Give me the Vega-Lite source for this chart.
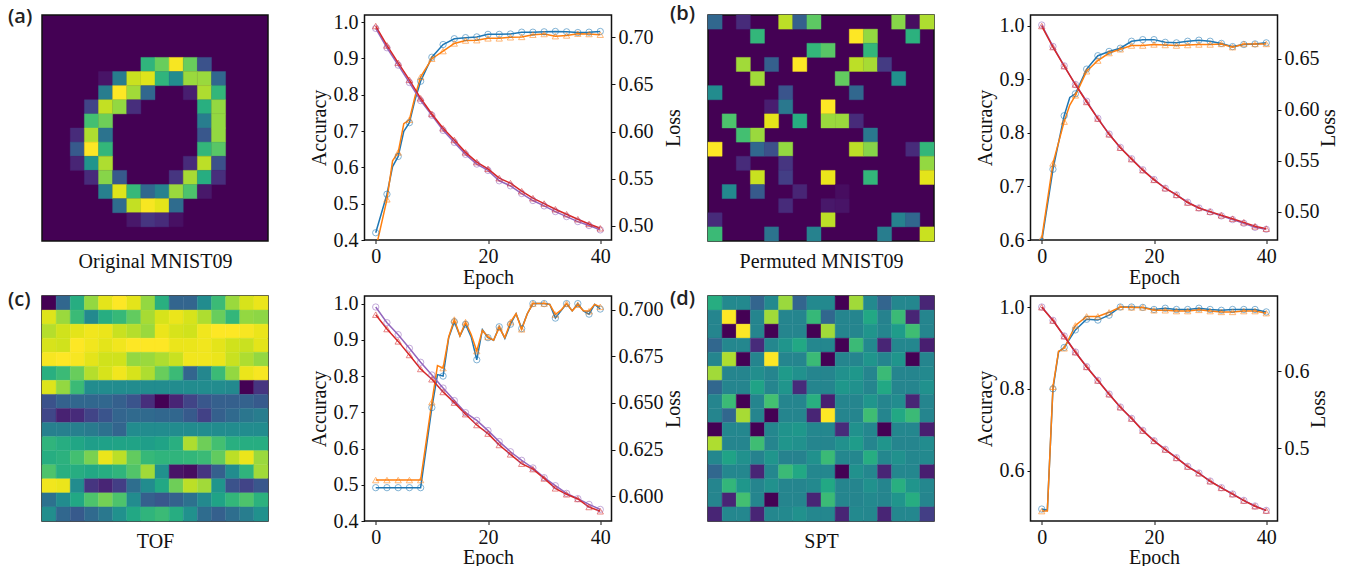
{"$schema":"https://vega.github.io/schema/vega-lite/v6.json","autosize":{"type":"none"},"padding":{"left":42,"top":15,"right":1308,"bottom":551},"background":"white","columns":4,"align":"each","bounds":"flush","spacing":{"row":55,"column":96.5},
"config":{"font":"Liberation Serif","view":{"stroke":"#111","strokeWidth":1.5},"axis":{"grid":false,"labelFont":"Liberation Serif","titleFont":"Liberation Serif","labelFontSize":20,"titleFontSize":20,"titleFontWeight":"normal","labelColor":"#111","titleColor":"#111","tickColor":"#111","tickSize":3.5,"tickWidth":1,"domain":false,"labelPadding":3,"labelOverlap":false,"labelFlush":false,"labelBound":false},"title":{"font":"Open Sans","fontWeight":600,"fontSize":20,"color":"#222","anchor":"start","frame":"group"},"rect":{"strokeWidth":0.4}},
"datasets":{
"ha":[{"r":3,"c":7,"v":0.65},{"r":3,"c":8,"v":0.77},{"r":3,"c":9,"v":0.99},{"r":3,"c":10,"v":0.77},{"r":3,"c":11,"v":0.25},{"r":4,"c":4,"v":0.05},{"r":4,"c":5,"v":0.42},{"r":4,"c":6,"v":0.92},{"r":4,"c":7,"v":0.95},{"r":4,"c":8,"v":0.65},{"r":4,"c":9,"v":0.48},{"r":4,"c":10,"v":0.85},{"r":4,"c":11,"v":0.85},{"r":4,"c":12,"v":0.33},{"r":5,"c":4,"v":0.42},{"r":5,"c":5,"v":1},{"r":5,"c":6,"v":0.86},{"r":5,"c":7,"v":0.33},{"r":5,"c":10,"v":0.08},{"r":5,"c":11,"v":0.88},{"r":5,"c":12,"v":0.66},{"r":6,"c":3,"v":0.2},{"r":6,"c":4,"v":0.91},{"r":6,"c":5,"v":0.84},{"r":6,"c":6,"v":0.13},{"r":6,"c":11,"v":0.63},{"r":6,"c":12,"v":0.84},{"r":7,"c":3,"v":0.7},{"r":7,"c":4,"v":0.78},{"r":7,"c":11,"v":0.42},{"r":7,"c":12,"v":0.84},{"r":8,"c":2,"v":0.12},{"r":8,"c":3,"v":0.88},{"r":8,"c":4,"v":0.38},{"r":8,"c":11,"v":0.27},{"r":8,"c":12,"v":0.84},{"r":9,"c":2,"v":0.28},{"r":9,"c":3,"v":1},{"r":9,"c":4,"v":0.66},{"r":9,"c":11,"v":0.66},{"r":9,"c":12,"v":0.74},{"r":10,"c":2,"v":0.1},{"r":10,"c":3,"v":0.52},{"r":10,"c":4,"v":0.88},{"r":10,"c":10,"v":0.12},{"r":10,"c":11,"v":0.9},{"r":10,"c":12,"v":0.24},{"r":11,"c":3,"v":0.12},{"r":11,"c":4,"v":0.82},{"r":11,"c":5,"v":0.28},{"r":11,"c":9,"v":0.15},{"r":11,"c":10,"v":0.87},{"r":11,"c":11,"v":0.62},{"r":11,"c":12,"v":0.13},{"r":12,"c":4,"v":0.43},{"r":12,"c":5,"v":0.95},{"r":12,"c":6,"v":0.67},{"r":12,"c":7,"v":0.33},{"r":12,"c":8,"v":0.44},{"r":12,"c":9,"v":0.85},{"r":12,"c":10,"v":0.72},{"r":12,"c":11,"v":0.06},{"r":13,"c":5,"v":0.35},{"r":13,"c":6,"v":0.91},{"r":13,"c":7,"v":0.99},{"r":13,"c":8,"v":0.96},{"r":13,"c":9,"v":0.35},{"r":14,"c":6,"v":0.06},{"r":14,"c":7,"v":0.15},{"r":14,"c":8,"v":0.12},{"r":14,"c":9,"v":0.04}],
"hb":[{"r":0,"c":0,"v":0.33},{"r":0,"c":2,"v":0.12},{"r":0,"c":5,"v":0.9},{"r":0,"c":6,"v":0.3},{"r":0,"c":7,"v":0.75},{"r":0,"c":13,"v":0.82},{"r":0,"c":14,"v":0.03},{"r":0,"c":15,"v":0.88},{"r":1,"c":3,"v":0.66},{"r":1,"c":10,"v":1},{"r":1,"c":11,"v":0.84},{"r":1,"c":14,"v":0.64},{"r":2,"c":7,"v":0.66},{"r":2,"c":8,"v":0.74},{"r":2,"c":11,"v":0.66},{"r":3,"c":2,"v":0.86},{"r":3,"c":4,"v":0.3},{"r":3,"c":6,"v":1},{"r":3,"c":10,"v":0.9},{"r":3,"c":11,"v":0.87},{"r":3,"c":12,"v":0.17},{"r":4,"c":3,"v":0.86},{"r":4,"c":9,"v":0.76},{"r":4,"c":13,"v":0.5},{"r":5,"c":0,"v":0.48},{"r":5,"c":5,"v":0.26},{"r":5,"c":10,"v":0.33},{"r":6,"c":4,"v":0.08},{"r":6,"c":5,"v":0.4},{"r":6,"c":8,"v":1},{"r":7,"c":1,"v":0.72},{"r":7,"c":4,"v":0.96},{"r":7,"c":6,"v":0.62},{"r":7,"c":8,"v":0.85},{"r":7,"c":9,"v":0.85},{"r":7,"c":10,"v":0.12},{"r":8,"c":2,"v":0.7},{"r":8,"c":3,"v":0.85},{"r":8,"c":11,"v":0.4},{"r":9,"c":0,"v":1},{"r":9,"c":3,"v":0.33},{"r":9,"c":4,"v":0.24},{"r":9,"c":5,"v":0.84},{"r":9,"c":10,"v":0.9},{"r":9,"c":11,"v":0.82},{"r":9,"c":14,"v":0.12},{"r":9,"c":15,"v":0.66},{"r":10,"c":2,"v":0.12},{"r":10,"c":5,"v":0.15},{"r":10,"c":15,"v":0.84},{"r":11,"c":3,"v":0.92},{"r":11,"c":5,"v":0.18},{"r":11,"c":8,"v":0.97},{"r":11,"c":11,"v":0.66},{"r":11,"c":15,"v":0.96},{"r":12,"c":1,"v":0.47},{"r":12,"c":3,"v":0.28},{"r":12,"c":6,"v":0.1},{"r":12,"c":9,"v":0.03},{"r":13,"c":5,"v":0.12},{"r":13,"c":8,"v":0.06},{"r":13,"c":9,"v":0.05},{"r":14,"c":0,"v":0.12},{"r":14,"c":8,"v":0.9},{"r":14,"c":13,"v":0.44},{"r":14,"c":14,"v":0.33},{"r":15,"c":0,"v":0.68},{"r":15,"c":4,"v":0.38},{"r":15,"c":7,"v":0.44},{"r":15,"c":12,"v":0.42},{"r":15,"c":15,"v":0.92}],
"hc":[{"r":0,"c":0,"v":0},{"r":0,"c":1,"v":0.33},{"r":0,"c":2,"v":0.62},{"r":0,"c":3,"v":0.84},{"r":0,"c":4,"v":0.96},{"r":0,"c":5,"v":1},{"r":0,"c":6,"v":0.96},{"r":0,"c":7,"v":0.84},{"r":0,"c":8,"v":0.63},{"r":0,"c":9,"v":0.32},{"r":0,"c":10,"v":0.32},{"r":0,"c":11,"v":0.48},{"r":0,"c":12,"v":0.68},{"r":0,"c":13,"v":0.85},{"r":0,"c":14,"v":0.94},{"r":0,"c":15,"v":0.97},{"r":1,"c":0,"v":0.95},{"r":1,"c":1,"v":0.85},{"r":1,"c":2,"v":0.68},{"r":1,"c":3,"v":0.47},{"r":1,"c":4,"v":0.62},{"r":1,"c":5,"v":0.67},{"r":1,"c":6,"v":0.76},{"r":1,"c":7,"v":0.87},{"r":1,"c":8,"v":0.94},{"r":1,"c":9,"v":0.97},{"r":1,"c":10,"v":0.94},{"r":1,"c":11,"v":0.88},{"r":1,"c":12,"v":0.77},{"r":1,"c":13,"v":0.66},{"r":1,"c":14,"v":0.84},{"r":1,"c":15,"v":0.83},{"r":2,"c":0,"v":0.89},{"r":2,"c":1,"v":0.93},{"r":2,"c":2,"v":0.96},{"r":2,"c":3,"v":0.98},{"r":2,"c":4,"v":0.97},{"r":2,"c":5,"v":0.92},{"r":2,"c":6,"v":0.89},{"r":2,"c":7,"v":0.85},{"r":2,"c":8,"v":0.97},{"r":2,"c":9,"v":0.94},{"r":2,"c":10,"v":0.93},{"r":2,"c":11,"v":0.98},{"r":2,"c":12,"v":1},{"r":2,"c":13,"v":1},{"r":2,"c":14,"v":0.99},{"r":2,"c":15,"v":0.97},{"r":3,"c":0,"v":0.94},{"r":3,"c":1,"v":0.93},{"r":3,"c":2,"v":1},{"r":3,"c":3,"v":0.98},{"r":3,"c":4,"v":0.96},{"r":3,"c":5,"v":0.98},{"r":3,"c":6,"v":1},{"r":3,"c":7,"v":1},{"r":3,"c":8,"v":1},{"r":3,"c":9,"v":0.97},{"r":3,"c":10,"v":0.97},{"r":3,"c":11,"v":0.98},{"r":3,"c":12,"v":0.96},{"r":3,"c":13,"v":0.93},{"r":3,"c":14,"v":0.92},{"r":3,"c":15,"v":0.96},{"r":4,"c":0,"v":0.99},{"r":4,"c":1,"v":1},{"r":4,"c":2,"v":0.99},{"r":4,"c":3,"v":0.96},{"r":4,"c":4,"v":0.93},{"r":4,"c":5,"v":0.93},{"r":4,"c":6,"v":0.84},{"r":4,"c":7,"v":0.85},{"r":4,"c":8,"v":0.88},{"r":4,"c":9,"v":0.92},{"r":4,"c":10,"v":0.98},{"r":4,"c":11,"v":0.98},{"r":4,"c":12,"v":0.97},{"r":4,"c":13,"v":0.92},{"r":4,"c":14,"v":0.88},{"r":4,"c":15,"v":0.84},{"r":5,"c":0,"v":0.63},{"r":5,"c":1,"v":0.68},{"r":5,"c":2,"v":0.77},{"r":5,"c":3,"v":0.89},{"r":5,"c":4,"v":0.94},{"r":5,"c":5,"v":0.98},{"r":5,"c":6,"v":0.94},{"r":5,"c":7,"v":0.88},{"r":5,"c":8,"v":0.77},{"r":5,"c":9,"v":0.68},{"r":5,"c":10,"v":0.32},{"r":5,"c":11,"v":0.46},{"r":5,"c":12,"v":0.68},{"r":5,"c":13,"v":0.84},{"r":5,"c":14,"v":0.97},{"r":5,"c":15,"v":0.99},{"r":6,"c":0,"v":0.95},{"r":6,"c":1,"v":0.84},{"r":6,"c":2,"v":0.68},{"r":6,"c":3,"v":0.48},{"r":6,"c":4,"v":0.48},{"r":6,"c":5,"v":0.48},{"r":6,"c":6,"v":0.48},{"r":6,"c":7,"v":0.48},{"r":6,"c":8,"v":0.48},{"r":6,"c":9,"v":0.48},{"r":6,"c":10,"v":0.48},{"r":6,"c":11,"v":0.48},{"r":6,"c":12,"v":0.48},{"r":6,"c":13,"v":0.47},{"r":6,"c":14,"v":0},{"r":6,"c":15,"v":0.15},{"r":7,"c":0,"v":0.25},{"r":7,"c":1,"v":0.31},{"r":7,"c":2,"v":0.33},{"r":7,"c":3,"v":0.33},{"r":7,"c":4,"v":0.33},{"r":7,"c":5,"v":0.3},{"r":7,"c":6,"v":0.26},{"r":7,"c":7,"v":0.13},{"r":7,"c":8,"v":0},{"r":7,"c":9,"v":0.1},{"r":7,"c":10,"v":0.2},{"r":7,"c":11,"v":0.27},{"r":7,"c":12,"v":0.3},{"r":7,"c":13,"v":0.3},{"r":7,"c":14,"v":0.31},{"r":7,"c":15,"v":0.28},{"r":8,"c":0,"v":0.21},{"r":8,"c":1,"v":0.09},{"r":8,"c":2,"v":0.12},{"r":8,"c":3,"v":0.2},{"r":8,"c":4,"v":0.26},{"r":8,"c":5,"v":0.32},{"r":8,"c":6,"v":0.34},{"r":8,"c":7,"v":0.34},{"r":8,"c":8,"v":0.33},{"r":8,"c":9,"v":0.33},{"r":8,"c":10,"v":0.28},{"r":8,"c":11,"v":0.19},{"r":8,"c":12,"v":0.3},{"r":8,"c":13,"v":0.34},{"r":8,"c":14,"v":0.39},{"r":8,"c":15,"v":0.42},{"r":9,"c":0,"v":0.43},{"r":9,"c":1,"v":0.43},{"r":9,"c":2,"v":0.43},{"r":9,"c":3,"v":0.41},{"r":9,"c":4,"v":0.37},{"r":9,"c":5,"v":0.32},{"r":9,"c":6,"v":0.48},{"r":9,"c":7,"v":0.48},{"r":9,"c":8,"v":0.48},{"r":9,"c":9,"v":0.48},{"r":9,"c":10,"v":0.48},{"r":9,"c":11,"v":0.48},{"r":9,"c":12,"v":0.48},{"r":9,"c":13,"v":0.48},{"r":9,"c":14,"v":0.48},{"r":9,"c":15,"v":0.48},{"r":10,"c":0,"v":0.65},{"r":10,"c":1,"v":0.62},{"r":10,"c":2,"v":0.59},{"r":10,"c":3,"v":0.56},{"r":10,"c":4,"v":0.57},{"r":10,"c":5,"v":0.58},{"r":10,"c":6,"v":0.58},{"r":10,"c":7,"v":0.56},{"r":10,"c":8,"v":0.58},{"r":10,"c":9,"v":0.63},{"r":10,"c":10,"v":0.88},{"r":10,"c":11,"v":0.78},{"r":10,"c":12,"v":0.7},{"r":10,"c":13,"v":0.63},{"r":10,"c":14,"v":0.62},{"r":10,"c":15,"v":0.62},{"r":11,"c":0,"v":0.62},{"r":11,"c":1,"v":0.64},{"r":11,"c":2,"v":0.7},{"r":11,"c":3,"v":0.8},{"r":11,"c":4,"v":0.97},{"r":11,"c":5,"v":0.9},{"r":11,"c":6,"v":0.76},{"r":11,"c":7,"v":0.67},{"r":11,"c":8,"v":0.65},{"r":11,"c":9,"v":0.65},{"r":11,"c":10,"v":0.66},{"r":11,"c":11,"v":0.68},{"r":11,"c":12,"v":0.76},{"r":11,"c":13,"v":0.9},{"r":11,"c":14,"v":0.97},{"r":11,"c":15,"v":0.85},{"r":12,"c":0,"v":0.72},{"r":12,"c":1,"v":0.63},{"r":12,"c":2,"v":0.62},{"r":12,"c":3,"v":0.6},{"r":12,"c":4,"v":0.62},{"r":12,"c":5,"v":0.65},{"r":12,"c":6,"v":0.73},{"r":12,"c":7,"v":0.86},{"r":12,"c":8,"v":0.5},{"r":12,"c":9,"v":0.05},{"r":12,"c":10,"v":0.03},{"r":12,"c":11,"v":0.15},{"r":12,"c":12,"v":0.3},{"r":12,"c":13,"v":0.48},{"r":12,"c":14,"v":0.65},{"r":12,"c":15,"v":0.86},{"r":13,"c":0,"v":0.98},{"r":13,"c":1,"v":0.97},{"r":13,"c":2,"v":0.48},{"r":13,"c":3,"v":0.15},{"r":13,"c":4,"v":0.1},{"r":13,"c":5,"v":0.18},{"r":13,"c":6,"v":0.36},{"r":13,"c":7,"v":0.48},{"r":13,"c":8,"v":0.6},{"r":13,"c":9,"v":0.78},{"r":13,"c":10,"v":0.9},{"r":13,"c":11,"v":0.86},{"r":13,"c":12,"v":0.52},{"r":13,"c":13,"v":0.25},{"r":13,"c":14,"v":0.2},{"r":13,"c":15,"v":0.27},{"r":14,"c":0,"v":0.37},{"r":14,"c":1,"v":0.48},{"r":14,"c":2,"v":0.6},{"r":14,"c":3,"v":0.72},{"r":14,"c":4,"v":0.79},{"r":14,"c":5,"v":0.72},{"r":14,"c":6,"v":0.48},{"r":14,"c":7,"v":0.3},{"r":14,"c":8,"v":0.27},{"r":14,"c":9,"v":0.31},{"r":14,"c":10,"v":0.37},{"r":14,"c":11,"v":0.47},{"r":14,"c":12,"v":0.58},{"r":14,"c":13,"v":0.66},{"r":14,"c":14,"v":0.72},{"r":14,"c":15,"v":0.64},{"r":15,"c":0,"v":0.49},{"r":15,"c":1,"v":0.33},{"r":15,"c":2,"v":0.28},{"r":15,"c":3,"v":0.34},{"r":15,"c":4,"v":0.4},{"r":15,"c":5,"v":0.5},{"r":15,"c":6,"v":0.6},{"r":15,"c":7,"v":0.65},{"r":15,"c":8,"v":0.68},{"r":15,"c":9,"v":0.62},{"r":15,"c":10,"v":0.5},{"r":15,"c":11,"v":0.35},{"r":15,"c":12,"v":0.3},{"r":15,"c":13,"v":0.36},{"r":15,"c":14,"v":0.42},{"r":15,"c":15,"v":0.5}],
"hd":[{"r":0,"c":0,"v":0.62},{"r":0,"c":1,"v":0.47},{"r":0,"c":2,"v":0.47},{"r":0,"c":3,"v":0.32},{"r":0,"c":4,"v":0.47},{"r":0,"c":5,"v":0.85},{"r":0,"c":6,"v":0.32},{"r":0,"c":7,"v":0.47},{"r":0,"c":8,"v":0.47},{"r":0,"c":9,"v":0},{"r":0,"c":10,"v":0.86},{"r":0,"c":11,"v":0.47},{"r":0,"c":12,"v":0.32},{"r":0,"c":13,"v":0.46},{"r":0,"c":14,"v":0.46},{"r":0,"c":15,"v":0.1},{"r":1,"c":0,"v":0.45},{"r":1,"c":1,"v":1},{"r":1,"c":2,"v":0},{"r":1,"c":3,"v":0.45},{"r":1,"c":4,"v":0.86},{"r":1,"c":5,"v":0.45},{"r":1,"c":6,"v":0.45},{"r":1,"c":7,"v":0.67},{"r":1,"c":8,"v":0.33},{"r":1,"c":9,"v":0.45},{"r":1,"c":10,"v":0.45},{"r":1,"c":11,"v":0.6},{"r":1,"c":12,"v":0.44},{"r":1,"c":13,"v":0.68},{"r":1,"c":14,"v":0.1},{"r":1,"c":15,"v":0.45},{"r":2,"c":0,"v":0.45},{"r":2,"c":1,"v":0},{"r":2,"c":2,"v":1},{"r":2,"c":3,"v":0.45},{"r":2,"c":4,"v":0},{"r":2,"c":5,"v":0.45},{"r":2,"c":6,"v":0.45},{"r":2,"c":7,"v":0},{"r":2,"c":8,"v":0.86},{"r":2,"c":9,"v":0.45},{"r":2,"c":10,"v":0.45},{"r":2,"c":11,"v":0.52},{"r":2,"c":12,"v":0.45},{"r":2,"c":13,"v":0.55},{"r":2,"c":14,"v":0.69},{"r":2,"c":15,"v":0.45},{"r":3,"c":0,"v":0.33},{"r":3,"c":1,"v":0.46},{"r":3,"c":2,"v":0.46},{"r":3,"c":3,"v":0.12},{"r":3,"c":4,"v":0.46},{"r":3,"c":5,"v":0.52},{"r":3,"c":6,"v":0.6},{"r":3,"c":7,"v":0.46},{"r":3,"c":8,"v":0.46},{"r":3,"c":9,"v":0},{"r":3,"c":10,"v":0.68},{"r":3,"c":11,"v":0.47},{"r":3,"c":12,"v":0.1},{"r":3,"c":13,"v":0.46},{"r":3,"c":14,"v":0.46},{"r":3,"c":15,"v":0.08},{"r":4,"c":0,"v":0.45},{"r":4,"c":1,"v":0.88},{"r":4,"c":2,"v":0},{"r":4,"c":3,"v":0.45},{"r":4,"c":4,"v":1},{"r":4,"c":5,"v":0.45},{"r":4,"c":6,"v":0.45},{"r":4,"c":7,"v":0.68},{"r":4,"c":8,"v":0},{"r":4,"c":9,"v":0.45},{"r":4,"c":10,"v":0.45},{"r":4,"c":11,"v":0.52},{"r":4,"c":12,"v":0.45},{"r":4,"c":13,"v":0.52},{"r":4,"c":14,"v":0},{"r":4,"c":15,"v":0.45},{"r":5,"c":0,"v":0.86},{"r":5,"c":1,"v":0.45},{"r":5,"c":2,"v":0.45},{"r":5,"c":3,"v":0.49},{"r":5,"c":4,"v":0.45},{"r":5,"c":5,"v":0.54},{"r":5,"c":6,"v":0.5},{"r":5,"c":7,"v":0.45},{"r":5,"c":8,"v":0.45},{"r":5,"c":9,"v":0.5},{"r":5,"c":10,"v":0.53},{"r":5,"c":11,"v":0.45},{"r":5,"c":12,"v":0.68},{"r":5,"c":13,"v":0.45},{"r":5,"c":14,"v":0.45},{"r":5,"c":15,"v":0.47},{"r":6,"c":0,"v":0.33},{"r":6,"c":1,"v":0.45},{"r":6,"c":2,"v":0.45},{"r":6,"c":3,"v":0.58},{"r":6,"c":4,"v":0.45},{"r":6,"c":5,"v":0.52},{"r":6,"c":6,"v":0.12},{"r":6,"c":7,"v":0.45},{"r":6,"c":8,"v":0.45},{"r":6,"c":9,"v":0.53},{"r":6,"c":10,"v":0.5},{"r":6,"c":11,"v":0.45},{"r":6,"c":12,"v":0.6},{"r":6,"c":13,"v":0.45},{"r":6,"c":14,"v":0.45},{"r":6,"c":15,"v":0.5},{"r":7,"c":0,"v":0.45},{"r":7,"c":1,"v":0.68},{"r":7,"c":2,"v":0},{"r":7,"c":3,"v":0.45},{"r":7,"c":4,"v":0.7},{"r":7,"c":5,"v":0.45},{"r":7,"c":6,"v":0.45},{"r":7,"c":7,"v":0.63},{"r":7,"c":8,"v":0.08},{"r":7,"c":9,"v":0.45},{"r":7,"c":10,"v":0.45},{"r":7,"c":11,"v":0.52},{"r":7,"c":12,"v":0.45},{"r":7,"c":13,"v":0.48},{"r":7,"c":14,"v":0.1},{"r":7,"c":15,"v":0.45},{"r":8,"c":0,"v":0.45},{"r":8,"c":1,"v":0.33},{"r":8,"c":2,"v":0.87},{"r":8,"c":3,"v":0.45},{"r":8,"c":4,"v":0},{"r":8,"c":5,"v":0.45},{"r":8,"c":6,"v":0.45},{"r":8,"c":7,"v":0.1},{"r":8,"c":8,"v":1},{"r":8,"c":9,"v":0.45},{"r":8,"c":10,"v":0.45},{"r":8,"c":11,"v":0.69},{"r":8,"c":12,"v":0.45},{"r":8,"c":13,"v":0.6},{"r":8,"c":14,"v":0.68},{"r":8,"c":15,"v":0.45},{"r":9,"c":0,"v":0},{"r":9,"c":1,"v":0.46},{"r":9,"c":2,"v":0.46},{"r":9,"c":3,"v":0},{"r":9,"c":4,"v":0.46},{"r":9,"c":5,"v":0.51},{"r":9,"c":6,"v":0.53},{"r":9,"c":7,"v":0.46},{"r":9,"c":8,"v":0.46},{"r":9,"c":9,"v":0.12},{"r":9,"c":10,"v":0.5},{"r":9,"c":11,"v":0.46},{"r":9,"c":12,"v":0},{"r":9,"c":13,"v":0.46},{"r":9,"c":14,"v":0.46},{"r":9,"c":15,"v":0.08},{"r":10,"c":0,"v":0.88},{"r":10,"c":1,"v":0.45},{"r":10,"c":2,"v":0.45},{"r":10,"c":3,"v":0.69},{"r":10,"c":4,"v":0.45},{"r":10,"c":5,"v":0.52},{"r":10,"c":6,"v":0.5},{"r":10,"c":7,"v":0.45},{"r":10,"c":8,"v":0.45},{"r":10,"c":9,"v":0.5},{"r":10,"c":10,"v":0.55},{"r":10,"c":11,"v":0.45},{"r":10,"c":12,"v":0.52},{"r":10,"c":13,"v":0.45},{"r":10,"c":14,"v":0.45},{"r":10,"c":15,"v":0.48},{"r":11,"c":0,"v":0.46},{"r":11,"c":1,"v":0.58},{"r":11,"c":2,"v":0.5},{"r":11,"c":3,"v":0.44},{"r":11,"c":4,"v":0.52},{"r":11,"c":5,"v":0.44},{"r":11,"c":6,"v":0.44},{"r":11,"c":7,"v":0.5},{"r":11,"c":8,"v":0.68},{"r":11,"c":9,"v":0.46},{"r":11,"c":10,"v":0.46},{"r":11,"c":11,"v":0.62},{"r":11,"c":12,"v":0.46},{"r":11,"c":13,"v":0.5},{"r":11,"c":14,"v":0.46},{"r":11,"c":15,"v":0.47},{"r":12,"c":0,"v":0.33},{"r":12,"c":1,"v":0.46},{"r":12,"c":2,"v":0.46},{"r":12,"c":3,"v":0.1},{"r":12,"c":4,"v":0.46},{"r":12,"c":5,"v":0.68},{"r":12,"c":6,"v":0.6},{"r":12,"c":7,"v":0.46},{"r":12,"c":8,"v":0.46},{"r":12,"c":9,"v":0},{"r":12,"c":10,"v":0.5},{"r":12,"c":11,"v":0.46},{"r":12,"c":12,"v":0.1},{"r":12,"c":13,"v":0.46},{"r":12,"c":14,"v":0.46},{"r":12,"c":15,"v":0.08},{"r":13,"c":0,"v":0.45},{"r":13,"c":1,"v":0.66},{"r":13,"c":2,"v":0.53},{"r":13,"c":3,"v":0.45},{"r":13,"c":4,"v":0.5},{"r":13,"c":5,"v":0.45},{"r":13,"c":6,"v":0.45},{"r":13,"c":7,"v":0.47},{"r":13,"c":8,"v":0.6},{"r":13,"c":9,"v":0.45},{"r":13,"c":10,"v":0.45},{"r":13,"c":11,"v":0.5},{"r":13,"c":12,"v":0.45},{"r":13,"c":13,"v":0.63},{"r":13,"c":14,"v":0.52},{"r":13,"c":15,"v":0.46},{"r":14,"c":0,"v":0.45},{"r":14,"c":1,"v":0.1},{"r":14,"c":2,"v":0.7},{"r":14,"c":3,"v":0.45},{"r":14,"c":4,"v":0},{"r":14,"c":5,"v":0.45},{"r":14,"c":6,"v":0.45},{"r":14,"c":7,"v":0.1},{"r":14,"c":8,"v":0.68},{"r":14,"c":9,"v":0.45},{"r":14,"c":10,"v":0.45},{"r":14,"c":11,"v":0.47},{"r":14,"c":12,"v":0.45},{"r":14,"c":13,"v":0.52},{"r":14,"c":14,"v":0.62},{"r":14,"c":15,"v":0.45},{"r":15,"c":0,"v":0.1},{"r":15,"c":1,"v":0.46},{"r":15,"c":2,"v":0.46},{"r":15,"c":3,"v":0.1},{"r":15,"c":4,"v":0.46},{"r":15,"c":5,"v":0.47},{"r":15,"c":6,"v":0.5},{"r":15,"c":7,"v":0.46},{"r":15,"c":8,"v":0.46},{"r":15,"c":9,"v":0.1},{"r":15,"c":10,"v":0.47},{"r":15,"c":11,"v":0.46},{"r":15,"c":12,"v":0.1},{"r":15,"c":13,"v":0.46},{"r":15,"c":14,"v":0.46},{"r":15,"c":15,"v":0.18}],
"la":[{"e":0,"ta":0.42,"va":0.375,"tl":0.7092,"vl":0.7117},{"e":2,"ta":0.526,"va":0.512,"tl":0.6887,"vl":0.6912},{"e":3,"ta":0.602,"va":0.618},{"e":4,"ta":0.63,"va":0.641,"tl":0.6703,"vl":0.6727},{"e":5,"ta":0.699,"va":0.72},{"e":6,"ta":0.723,"va":0.731,"tl":0.6519,"vl":0.6547},{"e":7,"ta":0.786,"va":0.795},{"e":8,"ta":0.837,"va":0.849,"tl":0.6327,"vl":0.6352},{"e":10,"ta":0.903,"va":0.899,"tl":0.6172,"vl":0.6186},{"e":12,"ta":0.938,"va":0.92,"tl":0.6012,"vl":0.6034},{"e":14,"ta":0.954,"va":0.941,"tl":0.5885,"vl":0.591},{"e":16,"ta":0.957,"va":0.949,"tl":0.5758,"vl":0.5779},{"e":18,"ta":0.959,"va":0.95,"tl":0.5655,"vl":0.5676},{"e":20,"ta":0.966,"va":0.955,"tl":0.5588,"vl":0.5605},{"e":22,"ta":0.966,"va":0.955,"tl":0.5478,"vl":0.5506},{"e":24,"ta":0.967,"va":0.958,"tl":0.5425,"vl":0.5453},{"e":26,"ta":0.972,"va":0.959,"tl":0.5343,"vl":0.5368},{"e":28,"ta":0.972,"va":0.965,"tl":0.5269,"vl":0.5294},{"e":30,"ta":0.973,"va":0.967,"tl":0.5212,"vl":0.5237},{"e":32,"ta":0.974,"va":0.961,"tl":0.5152,"vl":0.5177},{"e":34,"ta":0.973,"va":0.963,"tl":0.5099,"vl":0.5124},{"e":36,"ta":0.971,"va":0.968,"tl":0.5046,"vl":0.5071},{"e":38,"ta":0.972,"va":0.967,"tl":0.5004,"vl":0.5021},{"e":40,"ta":0.974,"va":0.965,"tl":0.4958,"vl":0.4975}],
"lb":[{"e":0,"ta":0.597,"va":0.603,"tl":0.6831,"vl":0.6821},{"e":2,"ta":0.732,"va":0.743,"tl":0.6621,"vl":0.6615},{"e":4,"ta":0.832,"va":0.821,"tl":0.6431,"vl":0.6428},{"e":5,"ta":0.866,"va":0.852},{"e":6,"ta":0.873,"va":0.87,"tl":0.6248,"vl":0.6248},{"e":8,"ta":0.919,"va":0.915,"tl":0.6084,"vl":0.6077},{"e":10,"ta":0.944,"va":0.935,"tl":0.5917,"vl":0.5914},{"e":12,"ta":0.952,"va":0.949,"tl":0.5763,"vl":0.576},{"e":14,"ta":0.958,"va":0.956,"tl":0.5632,"vl":0.5629},{"e":16,"ta":0.971,"va":0.963,"tl":0.5521,"vl":0.5517},{"e":18,"ta":0.974,"va":0.963,"tl":0.5413,"vl":0.5409},{"e":20,"ta":0.974,"va":0.965,"tl":0.5318,"vl":0.5314},{"e":22,"ta":0.969,"va":0.964,"tl":0.5232,"vl":0.5232},{"e":24,"ta":0.968,"va":0.963,"tl":0.5167,"vl":0.5167},{"e":26,"ta":0.971,"va":0.964,"tl":0.5095,"vl":0.5092},{"e":28,"ta":0.973,"va":0.965,"tl":0.5039,"vl":0.5039},{"e":30,"ta":0.971,"va":0.965,"tl":0.5,"vl":0.5003},{"e":32,"ta":0.967,"va":0.966,"tl":0.4961,"vl":0.4967},{"e":34,"ta":0.961,"va":0.96,"tl":0.4925,"vl":0.4934},{"e":36,"ta":0.965,"va":0.966,"tl":0.4889,"vl":0.4898},{"e":38,"ta":0.966,"va":0.966,"tl":0.4849,"vl":0.4859},{"e":40,"ta":0.968,"va":0.966,"tl":0.483,"vl":0.4836}],
"lc":[{"e":0,"ta":0.492,"va":0.513,"tl":0.7014,"vl":0.6973},{"e":2,"ta":0.492,"va":0.513,"tl":0.693,"vl":0.6896},{"e":4,"ta":0.492,"va":0.513,"tl":0.6866,"vl":0.683},{"e":6,"ta":0.492,"va":0.513,"tl":0.6793,"vl":0.6757},{"e":8,"ta":0.492,"va":0.513,"tl":0.6718,"vl":0.6682},{"e":10,"ta":0.713,"va":0.728,"tl":0.665,"vl":0.6627},{"e":11,"ta":0.804,"va":0.829},{"e":12,"ta":0.8,"va":0.822,"tl":0.658,"vl":0.6559},{"e":13,"ta":0.906,"va":0.908},{"e":14,"ta":0.95,"va":0.956,"tl":0.6513,"vl":0.6502},{"e":15,"ta":0.911,"va":0.911},{"e":16,"ta":0.943,"va":0.949,"tl":0.6448,"vl":0.644},{"e":17,"ta":0.908,"va":0.915},{"e":18,"ta":0.845,"va":0.869,"tl":0.6407,"vl":0.6382},{"e":19,"ta":0.928,"va":0.926},{"e":20,"ta":0.906,"va":0.908,"tl":0.6352,"vl":0.6336},{"e":21,"ta":0.899,"va":0.899},{"e":22,"ta":0.936,"va":0.934,"tl":0.6293,"vl":0.6275},{"e":23,"ta":0.904,"va":0.906},{"e":24,"ta":0.943,"va":0.949,"tl":0.6239,"vl":0.6225},{"e":25,"ta":0.972,"va":0.972},{"e":26,"ta":0.931,"va":0.929,"tl":0.6193,"vl":0.6175},{"e":27,"ta":0.972,"va":0.972},{"e":28,"ta":1,"va":1,"tl":0.6152,"vl":0.6146},{"e":29,"ta":1,"va":1},{"e":30,"ta":1,"va":1,"tl":0.61,"vl":0.6096},{"e":31,"ta":0.998,"va":0.998},{"e":32,"ta":0.96,"va":0.97,"tl":0.6057,"vl":0.6043},{"e":33,"ta":0.98,"va":0.982},{"e":34,"ta":1,"va":1,"tl":0.6016,"vl":0.6011},{"e":35,"ta":0.98,"va":0.98},{"e":36,"ta":1,"va":0.997,"tl":0.5988,"vl":0.5986},{"e":37,"ta":0.98,"va":0.98},{"e":38,"ta":0.971,"va":0.979,"tl":0.5957,"vl":0.5943},{"e":39,"ta":0.998,"va":0.998},{"e":40,"ta":0.985,"va":0.991,"tl":0.593,"vl":0.592}],
"ld":[{"e":0,"ta":0.506,"va":0.501,"tl":0.6831,"vl":0.6828},{"e":1,"ta":0.503,"va":0.501},{"e":2,"ta":0.8,"va":0.805,"tl":0.6658,"vl":0.6655},{"e":3,"ta":0.89,"va":0.892},{"e":4,"ta":0.901,"va":0.899,"tl":0.6455,"vl":0.6452},{"e":6,"ta":0.944,"va":0.955,"tl":0.6247,"vl":0.6244},{"e":8,"ta":0.97,"va":0.977,"tl":0.6056,"vl":0.6053},{"e":10,"ta":0.968,"va":0.977,"tl":0.5879,"vl":0.5876},{"e":12,"ta":0.98,"va":0.987,"tl":0.5701,"vl":0.5698},{"e":14,"ta":1,"va":1,"tl":0.5532,"vl":0.5529},{"e":16,"ta":1,"va":0.999,"tl":0.5385,"vl":0.5382},{"e":18,"ta":0.999,"va":0.999,"tl":0.5229,"vl":0.5226},{"e":20,"ta":0.994,"va":0.992,"tl":0.5095,"vl":0.5092},{"e":22,"ta":0.997,"va":0.992,"tl":0.4983,"vl":0.498},{"e":24,"ta":0.994,"va":0.99,"tl":0.4874,"vl":0.4871},{"e":26,"ta":0.994,"va":0.99,"tl":0.4762,"vl":0.4759},{"e":28,"ta":0.997,"va":0.993,"tl":0.4675,"vl":0.4672},{"e":30,"ta":0.994,"va":0.99,"tl":0.4571,"vl":0.4568},{"e":32,"ta":0.992,"va":0.988,"tl":0.4485,"vl":0.4482},{"e":34,"ta":0.994,"va":0.988,"tl":0.4403,"vl":0.44},{"e":36,"ta":0.994,"va":0.99,"tl":0.432,"vl":0.4317},{"e":38,"ta":0.994,"va":0.99,"tl":0.4247,"vl":0.4244},{"e":40,"ta":0.988,"va":0.985,"tl":0.419,"vl":0.4187}]
},
"concat":[
{"data":{"name":"ha"},"width":226,"height":226,"view":{"fill":"#440154"},"title":{"text":"(a)","dx":-34,"dy":16},"mark":"rect","encoding":{"x":{"field":"c","type":"ordinal","scale":{"domain":[0,1,2,3,4,5,6,7,8,9,10,11,12,13,14,15]},"axis":{"labels":false,"ticks":false,"title":"Original MNIST09","titlePadding":10}},"y":{"field":"r","type":"ordinal","scale":{"domain":[0,1,2,3,4,5,6,7,8,9,10,11,12,13,14,15]},"axis":null},"color":{"field":"v","type":"quantitative","scale":{"scheme":"viridis","domain":[0,1]},"legend":null},"stroke":{"field":"v","type":"quantitative","scale":{"scheme":"viridis","domain":[0,1]},"legend":null}}},
{"data":{"name":"la"},"width":247,"height":225,"encoding":{"x":{"field":"e","type":"quantitative","scale":{"domain":[-2,42],"nice":false},"axis":{"values":[0,20,40],"title":"Epoch","titlePadding":1}}},"layer":[
{"transform":[{"fold":["ta","va"],"as":["k","v"]}],"encoding":{"y":{"field":"v","type":"quantitative","scale":{"domain":[0.4,1.0193],"nice":false,"zero":false},"axis":{"values":[0.4,0.5,0.6,0.7,0.8,0.9,1.0],"format":".1f","title":"Accuracy","titlePadding":4}},"color":{"field":"k","type":"nominal","legend":null,"scale":{"domain":["ta","va","tl","vl"],"range":["#1f77b4","#ff7f0e","#9467bd","#d62728"]}}},"layer":[{"mark":{"type":"line","strokeWidth":1.5,"invalid":"filter","clip":true}},{"transform":[{"filter":"datum.e % 2 == 0 && datum.k == 'ta'"}],"mark":{"type":"point","shape":"circle","filled":false,"size":40,"strokeWidth":0.8,"clip":true,"invalid":"filter"}},{"transform":[{"filter":"datum.e % 2 == 0 && datum.k == 'va'"}],"mark":{"type":"point","shape":"triangle-up","filled":false,"size":40,"strokeWidth":0.8,"clip":true,"invalid":"filter"}}]},
{"transform":[{"fold":["tl","vl"],"as":["k","v"]}],"encoding":{"y":{"field":"v","type":"quantitative","scale":{"domain":[0.4851,0.7234],"nice":false,"zero":false},"axis":{"orient":"right","values":[0.5,0.55,0.6,0.65,0.7],"format":".2f","title":"Loss","titleAngle":270,"titleBaseline":"top","titlePadding":10}},"color":{"field":"k","type":"nominal","legend":null,"scale":{"domain":["ta","va","tl","vl"],"range":["#1f77b4","#ff7f0e","#9467bd","#d62728"]}}},"layer":[{"mark":{"type":"line","strokeWidth":1.5,"invalid":"filter","clip":true}},{"transform":[{"filter":"datum.e % 2 == 0 && datum.k == 'tl'"}],"mark":{"type":"point","shape":"circle","filled":false,"size":40,"strokeWidth":0.8,"clip":true,"invalid":"filter"}},{"transform":[{"filter":"datum.e % 2 == 0 && datum.k == 'vl'"}],"mark":{"type":"point","shape":"triangle-up","filled":false,"size":40,"strokeWidth":0.8,"clip":true,"invalid":"filter"}}]}
],"resolve":{"scale":{"y":"independent"}}},
{"data":{"name":"hb"},"width":226,"height":226,"view":{"fill":"#440154"},"title":{"text":"(b)","dx":-38,"dy":13},"mark":"rect","encoding":{"x":{"field":"c","type":"ordinal","scale":{"domain":[0,1,2,3,4,5,6,7,8,9,10,11,12,13,14,15]},"axis":{"labels":false,"ticks":false,"title":"Permuted MNIST09","titlePadding":10}},"y":{"field":"r","type":"ordinal","scale":{"domain":[0,1,2,3,4,5,6,7,8,9,10,11,12,13,14,15]},"axis":null},"color":{"field":"v","type":"quantitative","scale":{"scheme":"viridis","domain":[0,1]},"legend":null},"stroke":{"field":"v","type":"quantitative","scale":{"scheme":"viridis","domain":[0,1]},"legend":null}}},
{"data":{"name":"lb"},"width":247,"height":225,"encoding":{"x":{"field":"e","type":"quantitative","scale":{"domain":[-2,42],"nice":false},"axis":{"values":[0,20,40],"title":"Epoch","titlePadding":1}}},"layer":[
{"transform":[{"fold":["ta","va"],"as":["k","v"]}],"encoding":{"y":{"field":"v","type":"quantitative","scale":{"domain":[0.6,1.02],"nice":false,"zero":false},"axis":{"values":[0.6,0.7,0.8,0.9,1.0],"format":".1f","title":"Accuracy","titlePadding":4}},"color":{"field":"k","type":"nominal","legend":null,"scale":{"domain":["ta","va","tl","vl"],"range":["#1f77b4","#ff7f0e","#9467bd","#d62728"]}}},"layer":[{"mark":{"type":"line","strokeWidth":1.5,"invalid":"filter","clip":true}},{"transform":[{"filter":"datum.e % 2 == 0 && datum.k == 'ta'"}],"mark":{"type":"point","shape":"circle","filled":false,"size":40,"strokeWidth":0.8,"clip":true,"invalid":"filter"}},{"transform":[{"filter":"datum.e % 2 == 0 && datum.k == 'va'"}],"mark":{"type":"point","shape":"triangle-up","filled":false,"size":40,"strokeWidth":0.8,"clip":true,"invalid":"filter"}}]},
{"transform":[{"fold":["tl","vl"],"as":["k","v"]}],"encoding":{"y":{"field":"v","type":"quantitative","scale":{"domain":[0.4725,0.6929],"nice":false,"zero":false},"axis":{"orient":"right","values":[0.5,0.55,0.6,0.65],"format":".2f","title":"Loss","titleAngle":270,"titleBaseline":"top","titlePadding":-1}},"color":{"field":"k","type":"nominal","legend":null,"scale":{"domain":["ta","va","tl","vl"],"range":["#1f77b4","#ff7f0e","#9467bd","#d62728"]}}},"layer":[{"mark":{"type":"line","strokeWidth":1.5,"invalid":"filter","clip":true}},{"transform":[{"filter":"datum.e % 2 == 0 && datum.k == 'tl'"}],"mark":{"type":"point","shape":"circle","filled":false,"size":40,"strokeWidth":0.8,"clip":true,"invalid":"filter"}},{"transform":[{"filter":"datum.e % 2 == 0 && datum.k == 'vl'"}],"mark":{"type":"point","shape":"triangle-up","filled":false,"size":40,"strokeWidth":0.8,"clip":true,"invalid":"filter"}}]}
],"resolve":{"scale":{"y":"independent"}}},
{"data":{"name":"hc"},"width":226,"height":225,"title":{"text":"(c)","dx":-34,"dy":18},"mark":"rect","encoding":{"x":{"field":"c","type":"ordinal","scale":{"domain":[0,1,2,3,4,5,6,7,8,9,10,11,12,13,14,15]},"axis":{"labels":false,"ticks":false,"title":"TOF","titlePadding":10}},"y":{"field":"r","type":"ordinal","scale":{"domain":[0,1,2,3,4,5,6,7,8,9,10,11,12,13,14,15]},"axis":null},"color":{"field":"v","type":"quantitative","scale":{"scheme":"viridis","domain":[0,1]},"legend":null},"stroke":{"field":"v","type":"quantitative","scale":{"scheme":"viridis","domain":[0,1]},"legend":null}}},
{"data":{"name":"lc"},"width":247,"height":225,"encoding":{"x":{"field":"e","type":"quantitative","scale":{"domain":[-2,42],"nice":false},"axis":{"values":[0,20,40],"title":"Epoch","titlePadding":0}}},"layer":[
{"transform":[{"fold":["ta","va"],"as":["k","v"]}],"encoding":{"y":{"field":"v","type":"quantitative","scale":{"domain":[0.4,1.021],"nice":false,"zero":false},"axis":{"values":[0.4,0.5,0.6,0.7,0.8,0.9,1.0],"format":".1f","title":"Accuracy","titlePadding":4}},"color":{"field":"k","type":"nominal","legend":null,"scale":{"domain":["ta","va","tl","vl"],"range":["#1f77b4","#ff7f0e","#9467bd","#d62728"]}}},"layer":[{"mark":{"type":"line","strokeWidth":1.5,"invalid":"filter","clip":true}},{"transform":[{"filter":"datum.e % 2 == 0 && datum.k == 'ta'"}],"mark":{"type":"point","shape":"circle","filled":false,"size":40,"strokeWidth":0.8,"clip":true,"invalid":"filter"}},{"transform":[{"filter":"datum.e % 2 == 0 && datum.k == 'va'"}],"mark":{"type":"point","shape":"triangle-up","filled":false,"size":40,"strokeWidth":0.8,"clip":true,"invalid":"filter"}}]},
{"transform":[{"fold":["tl","vl"],"as":["k","v"]}],"encoding":{"y":{"field":"v","type":"quantitative","scale":{"domain":[0.5868,0.7073],"nice":false,"zero":false},"axis":{"orient":"right","values":[0.6,0.625,0.65,0.675,0.7],"format":".3f","title":"Loss","titleAngle":270,"titleBaseline":"top","titlePadding":0}},"color":{"field":"k","type":"nominal","legend":null,"scale":{"domain":["ta","va","tl","vl"],"range":["#1f77b4","#ff7f0e","#9467bd","#d62728"]}}},"layer":[{"mark":{"type":"line","strokeWidth":1.5,"invalid":"filter","clip":true}},{"transform":[{"filter":"datum.e % 2 == 0 && datum.k == 'tl'"}],"mark":{"type":"point","shape":"circle","filled":false,"size":40,"strokeWidth":0.8,"clip":true,"invalid":"filter"}},{"transform":[{"filter":"datum.e % 2 == 0 && datum.k == 'vl'"}],"mark":{"type":"point","shape":"triangle-up","filled":false,"size":40,"strokeWidth":0.8,"clip":true,"invalid":"filter"}}]}
],"resolve":{"scale":{"y":"independent"}}},
{"data":{"name":"hd"},"width":226,"height":225,"title":{"text":"(d)","dx":-38,"dy":17},"mark":"rect","encoding":{"x":{"field":"c","type":"ordinal","scale":{"domain":[0,1,2,3,4,5,6,7,8,9,10,11,12,13,14,15]},"axis":{"labels":false,"ticks":false,"title":"SPT","titlePadding":10}},"y":{"field":"r","type":"ordinal","scale":{"domain":[0,1,2,3,4,5,6,7,8,9,10,11,12,13,14,15]},"axis":null},"color":{"field":"v","type":"quantitative","scale":{"scheme":"viridis","domain":[0,1]},"legend":null},"stroke":{"field":"v","type":"quantitative","scale":{"scheme":"viridis","domain":[0,1]},"legend":null}}},
{"data":{"name":"ld"},"width":247,"height":225,"encoding":{"x":{"field":"e","type":"quantitative","scale":{"domain":[-2,42],"nice":false},"axis":{"values":[0,20,40],"title":"Epoch","titlePadding":0}}},"layer":[
{"transform":[{"fold":["ta","va"],"as":["k","v"]}],"encoding":{"y":{"field":"v","type":"quantitative","scale":{"domain":[0.4768,1.0269],"nice":false,"zero":false},"axis":{"values":[0.6,0.8,1.0],"format":".1f","title":"Accuracy","titlePadding":4}},"color":{"field":"k","type":"nominal","legend":null,"scale":{"domain":["ta","va","tl","vl"],"range":["#1f77b4","#ff7f0e","#9467bd","#d62728"]}}},"layer":[{"mark":{"type":"line","strokeWidth":1.5,"invalid":"filter","clip":true}},{"transform":[{"filter":"datum.e % 2 == 0 && datum.k == 'ta'"}],"mark":{"type":"point","shape":"circle","filled":false,"size":40,"strokeWidth":0.8,"clip":true,"invalid":"filter"}},{"transform":[{"filter":"datum.e % 2 == 0 && datum.k == 'va'"}],"mark":{"type":"point","shape":"triangle-up","filled":false,"size":40,"strokeWidth":0.8,"clip":true,"invalid":"filter"}}]},
{"transform":[{"fold":["tl","vl"],"as":["k","v"]}],"encoding":{"y":{"field":"v","type":"quantitative","scale":{"domain":[0.4052,0.6974],"nice":false,"zero":false},"axis":{"orient":"right","values":[0.5,0.6],"format":".1f","title":"Loss","titleAngle":270,"titleBaseline":"top","titlePadding":-1}},"color":{"field":"k","type":"nominal","legend":null,"scale":{"domain":["ta","va","tl","vl"],"range":["#1f77b4","#ff7f0e","#9467bd","#d62728"]}}},"layer":[{"mark":{"type":"line","strokeWidth":1.5,"invalid":"filter","clip":true}},{"transform":[{"filter":"datum.e % 2 == 0 && datum.k == 'tl'"}],"mark":{"type":"point","shape":"circle","filled":false,"size":40,"strokeWidth":0.8,"clip":true,"invalid":"filter"}},{"transform":[{"filter":"datum.e % 2 == 0 && datum.k == 'vl'"}],"mark":{"type":"point","shape":"triangle-up","filled":false,"size":40,"strokeWidth":0.8,"clip":true,"invalid":"filter"}}]}
],"resolve":{"scale":{"y":"independent"}}}
]}
